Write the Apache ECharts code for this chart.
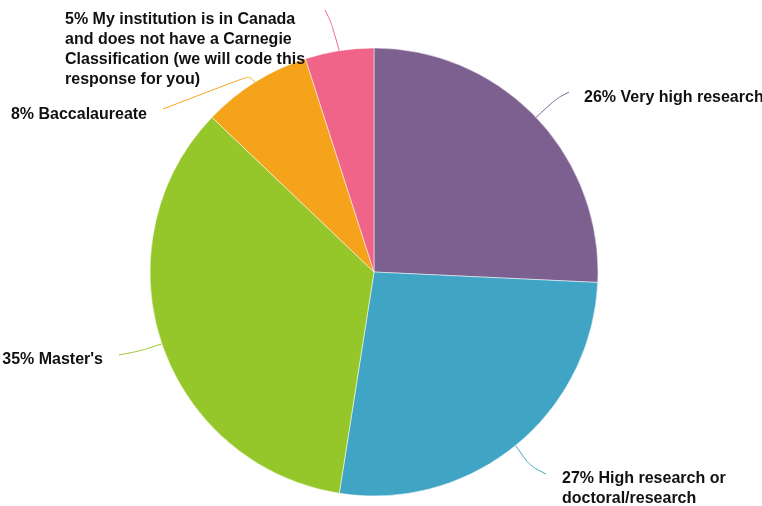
<!DOCTYPE html>
<html>
<head>
<meta charset="utf-8">
<script src="https://cdn.jsdelivr.net/npm/echarts@6/dist/echarts.min.js"></script>
<style>
  html, body { margin: 0; padding: 0; background: #fff; }
  #main { width: 762px; height: 506px; }
</style>
</head>
<body>
<div id="main"></div>
<script>
  // categories and shares (percent, as printed on the labels)
  const categories = [
    'Very high research',
    'High research or doctoral/research',
    "Master's",
    'Baccalaureate',
    'My institution is in Canada and does not have a Carnegie Classification (we will code this response for you)',
  ];
  const shares = [26, 27, 35, 8, 5];
  const colors = ['#7c6090', '#40a4c4', '#96c72a', '#f5a31a', '#f06489'];

  // where each label sits, and the bend / end of its guide line
  const labelSpots = [
    { x: 584, y: 98, align: 'left', width: 200, bend: [556, 99], end: [569, 92] },
    { x: 562, y: 489, align: 'left', width: 170, bend: [530, 466], end: [546, 474] },
    { x: 103, y: 360, align: 'right', width: 200, bend: [140, 351], end: [119, 355] },
    { x: 147, y: 115, align: 'right', width: 200, bend: [249, 76], end: [163, 109] },
    { x: 65, y: 50, align: 'left', width: 252, bend: [331, 22], end: [325, 10] },
  ];

  const chart = echarts.init(document.getElementById('main'));

  chart.setOption({
    animation: false,
    series: [
      {
        type: 'pie',
        center: [374, 272],
        radius: 224,
        startAngle: 90,
        clockwise: true,
        itemStyle: { borderColor: '#fff', borderWidth: 0.5 },
        label: {
          formatter: '{c}% {b}',
          color: '#111',
          fontFamily: 'Liberation Sans, Arial, sans-serif',
          fontWeight: 'bold',
          fontSize: 16,
          lineHeight: 20,
          overflow: 'break',
        },
        labelLine: { smooth: 0.3, lineStyle: { width: 1 } },
        labelLayout(params) {
          const s = labelSpots[params.dataIndex];
          const anchor = params.labelLinePoints
            ? params.labelLinePoints[0]
            : [0, 0];
          return {
            x: s.x,
            y: s.y,
            align: s.align,
            verticalAlign: 'middle',
            labelLinePoints: [anchor, s.bend, s.end],
          };
        },
        data: categories.map((name, i) => ({
          name,
          value: shares[i],
          itemStyle: { color: colors[i] },
          label: { width: labelSpots[i].width },
        })),
      },
    ],
  });
</script>
</body>
</html>
